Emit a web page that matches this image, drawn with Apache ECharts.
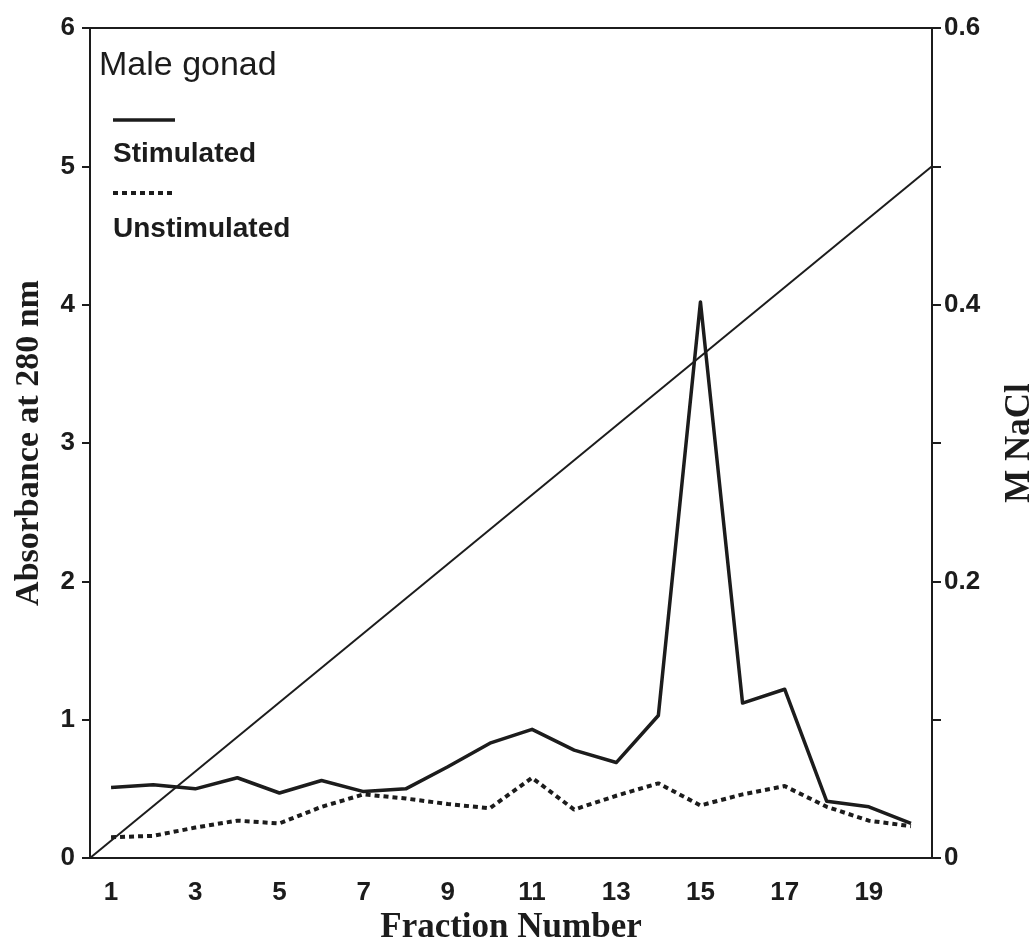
<!DOCTYPE html>
<html>
<head>
<meta charset="utf-8">
<title>Male gonad – absorbance profile</title>
<script src="https://cdn.jsdelivr.net/npm/echarts@6/dist/echarts.min.js"></script>
<style>
  html, body { margin: 0; padding: 0; background: #ffffff; }
  #chart { width: 1032px; height: 946px; }
</style>
</head>
<body>
<div id="chart"></div>
<script>
// Fraction numbers on the horizontal axis
const fractions = ['1','2','3','4','5','6','7','8','9','10','11','12','13','14','15','16','17','18','19','20'];

// Absorbance at 280 nm per fraction
const stimulated   = [0.51, 0.53, 0.50, 0.58, 0.47, 0.56, 0.48, 0.50, 0.66, 0.83, 0.93, 0.78, 0.69, 1.03, 4.02, 1.12, 1.22, 0.41, 0.37, 0.25];
const unstimulated = [0.15, 0.16, 0.22, 0.27, 0.25, 0.37, 0.46, 0.43, 0.39, 0.36, 0.58, 0.35, 0.45, 0.54, 0.38, 0.46, 0.52, 0.37, 0.27, 0.23];

// Linear NaCl gradient (start and end of the elution)
const gradientFraction = [0.5, 20.5];
const gradientMolar    = [0, 0.5];

const ink = '#1c1c1c';
const sans = '"Liberation Sans", Arial, Helvetica, sans-serif';
const serif = '"Liberation Serif", "Times New Roman", serif';

const chart = echarts.init(document.getElementById('chart'), null, { renderer: 'canvas' });

const option = {
  backgroundColor: '#ffffff',
  animation: false,
  title: {
    text: 'Male gonad',
    left: 94, top: 44,
    textStyle: { fontFamily: sans, fontSize: 34, fontWeight: 'normal', color: ink }
  },
  grid: {
    left: 90, right: 100, top: 28, bottom: 88,
    outerBoundsMode: 'none',
    containLabel: false,
    show: true, borderColor: ink, borderWidth: 2, backgroundColor: 'transparent'
  },
  xAxis: [
    {
      type: 'category',
      data: fractions,
      boundaryGap: true,
      name: 'Fraction Number',
      nameLocation: 'middle',
      nameGap: 46,
      nameTextStyle: { fontFamily: serif, fontSize: 35, fontWeight: 'bold', color: ink },
      axisLine: { lineStyle: { color: ink, width: 2 } },
      axisTick: { alignWithLabel: true, interval: 0, length: 10, lineStyle: { color: ink, width: 2 } },
      axisLabel: { interval: 1, margin: 22, fontFamily: sans, fontSize: 26, fontWeight: 'bold', color: ink },
      splitLine: { show: false }
    },
    {
      type: 'value',
      min: gradientFraction[0],
      max: gradientFraction[1],
      show: false
    }
  ],
  yAxis: [
    {
      type: 'value',
      min: 0, max: 6, interval: 1,
      name: 'Absorbance at 280 nm',
      nameLocation: 'middle',
      nameGap: 44,
      nameTextStyle: { fontFamily: serif, fontSize: 34, fontWeight: 'bold', color: ink },
      axisLine: { show: true, lineStyle: { color: ink, width: 2 } },
      axisTick: { show: true, length: 8, lineStyle: { color: ink, width: 2 } },
      axisLabel: { margin: 15, fontFamily: sans, fontSize: 26, fontWeight: 'bold', color: ink },
      splitLine: { show: false }
    },
    {
      type: 'value',
      position: 'right',
      min: 0, max: 0.6, interval: 0.1,
      name: 'M NaCl',
      nameLocation: 'middle',
      nameRotate: 90,
      nameGap: 70,
      nameTextStyle: { fontFamily: serif, fontSize: 35, fontWeight: 'bold', color: ink },
      axisLine: { show: true, lineStyle: { color: ink, width: 2 } },
      axisTick: { show: true, length: 9, lineStyle: { color: ink, width: 2 } },
      axisLabel: {
        margin: 12, fontFamily: sans, fontSize: 26, fontWeight: 'bold', color: ink,
        formatter: function (v) {
          const k = Math.round(v * 10);
          if (k % 2 !== 0) return '';
          return k === 0 ? '0' : (k / 10).toFixed(1);
        }
      },
      splitLine: { show: false }
    }
  ],
  series: [
    {
      name: 'NaCl gradient',
      type: 'line',
      xAxisIndex: 1,
      yAxisIndex: 1,
      data: gradientFraction.map((f, i) => [f, gradientMolar[i]]),
      showSymbol: false,
      symbol: 'none',
      lineStyle: { color: ink, width: 2 },
      z: 2
    },
    {
      name: 'Stimulated',
      type: 'line',
      data: stimulated,
      symbol: 'none',
      lineStyle: { color: ink, width: 3.5, join: 'round' },
      z: 3
    },
    {
      name: 'Unstimulated',
      type: 'line',
      data: unstimulated,
      symbol: 'none',
      lineStyle: { color: ink, width: 4, type: [5, 4] },
      z: 3
    }
  ],
  // Key: a line sample above each label
  graphic: [
    { type: 'line', shape: { x1: 113, y1: 120, x2: 175, y2: 120 }, style: { stroke: ink, lineWidth: 3.5 } },
    { type: 'text', left: 113, top: 140, style: { text: 'Stimulated', font: 'bold 28px ' + sans, fill: ink } },
    { type: 'line', shape: { x1: 113, y1: 193, x2: 175, y2: 193 }, style: { stroke: ink, lineWidth: 4, lineDash: [5, 4] } },
    { type: 'text', left: 113, top: 215, style: { text: 'Unstimulated', font: 'bold 28px ' + sans, fill: ink } }
  ]
};

chart.setOption(option);
</script>
</body>
</html>
